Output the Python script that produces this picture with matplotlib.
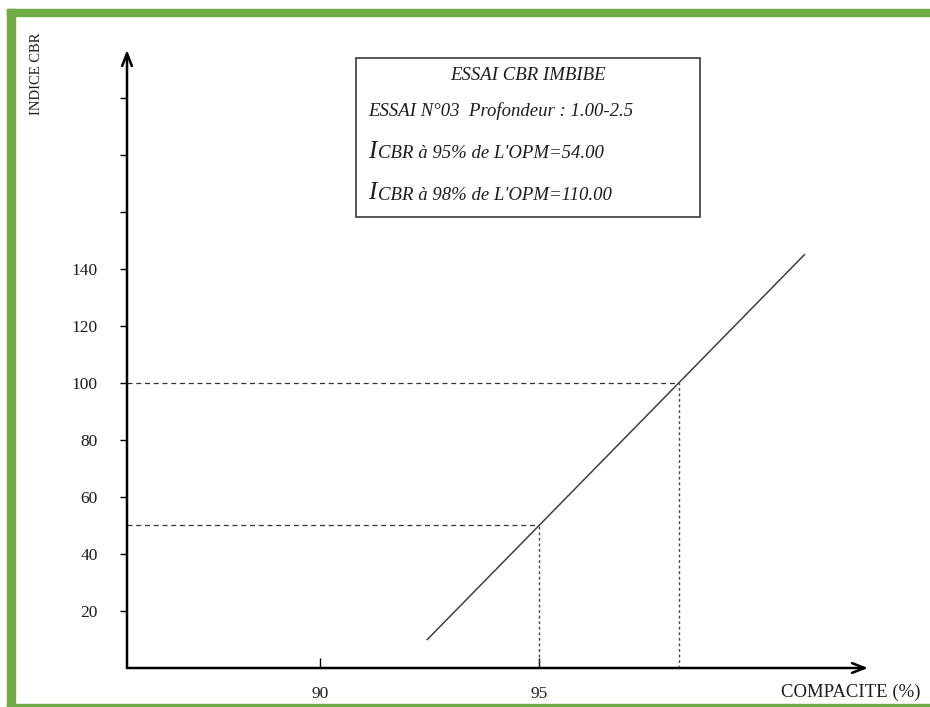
import matplotlib
matplotlib.use("Agg")
import matplotlib.pyplot as plt
from matplotlib.patches import Rectangle

# Data
cbr_line_x = [92.45, 101.05]        # compacité (%)
cbr_line_y = [10, 145]              # indice CBR
ref_compaction = [95, 98.2]         # lectures à 95 % et 98 % de l'OPM
ref_cbr = [50, 100]
y_ticks = [20, 40, 60, 80, 100, 120, 140, 160, 180, 200]
y_tick_labels = ["20", "40", "60", "80", "100", "120", "140", "", "", ""]
x_ticks = [90, 95]
x_tick_labels = ["90", "95"]

W, H = 930, 707
fig = plt.figure(figsize=(W / 100, H / 100), dpi=100)
plt.rcParams["font.family"] = ["Liberation Serif", "DejaVu Serif"]
txt = "#1c1c1c"

def fx(px):
    return px / W

def fy(py):
    return 1 - py / H

# Green frame
green = "#70ad47"
fig.patches.append(Rectangle((fx(7), fy(16)), 1 - fx(7), fy(9) - fy(16),
                             transform=fig.transFigure, color=green, zorder=0))
fig.patches.append(Rectangle((fx(7), 0), fx(15) - fx(7), fy(9),
                             transform=fig.transFigure, color=green, zorder=0))
fig.patches.append(Rectangle((fx(7), 0), 1 - fx(7), fy(704),
                             transform=fig.transFigure, color=green, zorder=0))

# Axes area
x0, x1 = 127, 868
y0, y1 = 668, 50
ax = fig.add_axes([fx(x0), fy(y0), fx(x1) - fx(x0), fy(y1) - fy(y0)])
ax.set_xlim(85.6, 102.5)
ax.set_ylim(0, 216.8)
ax.patch.set_alpha(0)
for s in ax.spines.values():
    s.set_visible(False)

# Axis arrows
ax.annotate("", xy=(1.0, 0), xytext=(0, 0), xycoords="axes fraction",
            arrowprops=dict(arrowstyle="->,head_length=0.9,head_width=0.35",
                            lw=1.8, color="black", shrinkA=0, shrinkB=0))
ax.annotate("", xy=(0, 1.0), xytext=(0, 0), xycoords="axes fraction",
            arrowprops=dict(arrowstyle="->,head_length=0.9,head_width=0.35",
                            lw=1.8, color="black", shrinkA=0, shrinkB=0))

# Ticks
ax.set_yticks(y_ticks)
ax.set_yticklabels(y_tick_labels)
ax.tick_params(axis="y", direction="out", length=5, width=1, pad=16,
               labelsize=12.5, labelcolor=txt)
ax.set_xticks(x_ticks)
ax.set_xticklabels(x_tick_labels)
ax.tick_params(axis="x", direction="in", length=7, width=1, pad=13,
               labelsize=12.5, labelcolor=txt)

# CBR line
ax.plot(cbr_line_x, cbr_line_y, color="#404040", lw=1.1)

# Reference guides
for cx, cy in zip(ref_compaction, ref_cbr):
    ax.plot([85.6, cx], [cy, cy], color="#333333", lw=0.9,
            linestyle=(0, (4, 3)))
    ax.plot([cx, cx], [0, cy], color="#444444", lw=1.0,
            linestyle=(0, (2, 2)))

# Axis titles
fig.text(fx(851), fy(692), "COMPACITE (%)", ha="center", va="center",
         fontsize=13.5, color=txt)
fig.text(fx(36), fy(33), "INDICE CBR", ha="center", va="top",
         rotation=90, fontsize=10.5, color=txt)

# Info box
fig.patches.append(Rectangle((fx(356), fy(217)), fx(700) - fx(356),
                             fy(58) - fy(217), transform=fig.transFigure,
                             fill=False, edgecolor="#4a4a4a", lw=1.3,
                             zorder=3))
fig.text(fx(528), fy(75), "ESSAI CBR IMBIBE", ha="center", va="center",
         fontsize=13.5, style="italic", color=txt)
fig.text(fx(368), fy(111), "ESSAI N°03  Profondeur : 1.00-2.5", ha="left",
         va="center", fontsize=13.5, style="italic", color=txt)
for py, rest in [(152, "CBR à 95% de L'OPM=54.00"),
                 (193, "CBR à 98% de L'OPM=110.00")]:
    fig.text(fx(368), fy(py), "I", ha="left", va="center",
             fontsize=18, style="italic", color=txt)
    fig.text(fx(378), fy(py + 2), rest, ha="left", va="center",
             fontsize=13.5, style="italic", color=txt)

fig.savefig("out.png", dpi=100)
